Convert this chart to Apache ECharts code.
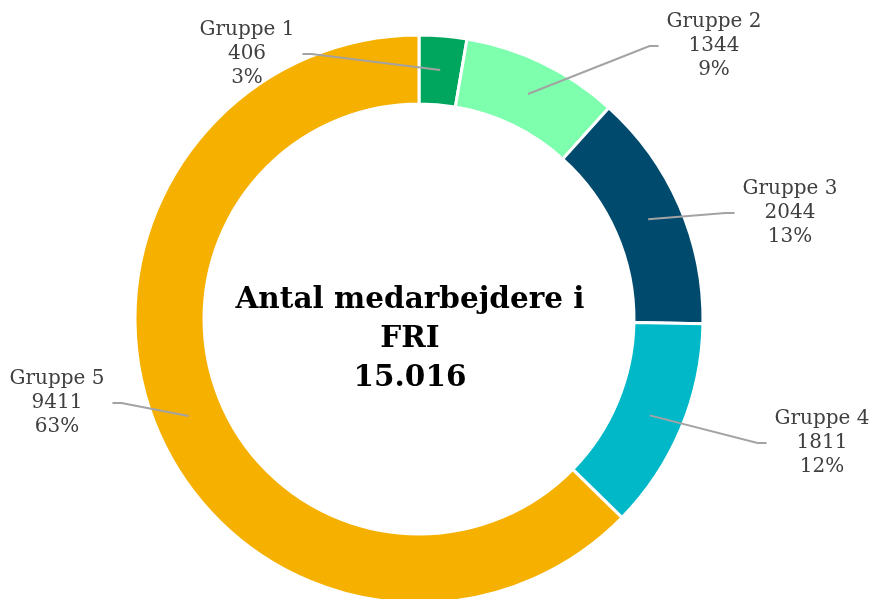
<!DOCTYPE html>
<html>
<head>
<meta charset="utf-8">
<script src="https://cdn.jsdelivr.net/npm/echarts@6/dist/echarts.min.js"></script>
<style>
  html, body { margin: 0; padding: 0; background: #fff; }
  #chart { width: 876px; height: 599px; }
</style>
</head>
<body>
<div id="chart"></div>
<script>
// data
const groups = ['Gruppe 1', 'Gruppe 2', 'Gruppe 3', 'Gruppe 4', 'Gruppe 5'];
const counts = [406, 1344, 2044, 1811, 9411];
const colors = ['#00a65d', '#7dffae', '#004a6e', '#00b8c8', '#f5b000'];
const titleText = 'Antal medarbejdere i\nFRI';

// where each label block sits (centre of the text)
const labelPos = [[247, 54], [714, 46], [790, 213], [822, 443], [57, 403]];

const cx = 419, cy = 319;
const labelFont = '20px "DejaVu Serif"';
const total = counts.reduce((a, b) => a + b, 0);
const totalText = String(total).replace(/\B(?=(\d{3})+(?!\d))/g, '.');

// width of the first label line, used to end the leader lines
const ctx = document.createElement('canvas').getContext('2d');
ctx.font = labelFont;
const nameWidth = groups.map(g => ctx.measureText(g).width);

const chart = echarts.init(document.getElementById('chart'), null, { renderer: 'canvas' });

const option = {
    backgroundColor: '#fff',
    animation: false,
    graphic: [{
        type: 'text',
        z: 10,
        x: 410,
        y: 281,
        style: {
            text: titleText + '\n' + totalText,
            align: 'center',
            font: 'bold 29.5px "DejaVu Serif"',
            lineHeight: 39,
            fill: '#000'
        }
    }],
    series: [
        {
            // the ring itself
            type: 'pie',
            z: 2,
            center: [cx, cy],
            radius: [215, 284],
            startAngle: 90,
            clockwise: true,
            silent: true,
            label: { show: false },
            labelLine: { show: false },
            itemStyle: { borderColor: '#fff', borderWidth: 3 },
            data: groups.map((name, i) => ({
                name: name,
                value: counts[i],
                itemStyle: { color: colors[i] }
            }))
        },
        {
            // invisible copy, only used for the labels and leader lines
            type: 'pie',
            z: 3,
            center: [cx, cy],
            radius: [0, 250],
            startAngle: 90,
            clockwise: true,
            silent: true,
            avoidLabelOverlap: false,
            percentPrecision: 0,
            itemStyle: { color: 'rgba(0,0,0,0)' },
            label: {
                show: true,
                formatter: '{b}\n{c}\n{d}%',
                fontFamily: 'DejaVu Serif',
                fontSize: 20,
                lineHeight: 24,
                color: '#404040',
                align: 'center'
            },
            labelLine: {
                show: true,
                length: 20,
                length2: 10,
                lineStyle: { color: '#a3a3a3', width: 2 }
            },
            labelLayout: function (params) {
                const i = params.dataIndex;
                const x = labelPos[i][0], y = labelPos[i][1];
                const w = nameWidth[i];
                const right = x > cx;
                const end = right ? x - w / 2 - 8 : x + w / 2 + 8;
                const elbow = right ? end - 9 : end + 9;
                const start = params.labelLinePoints[0];
                return {
                    x: x,
                    y: y,
                    align: 'center',
                    verticalAlign: 'middle',
                    labelLinePoints: [start, [elbow, y], [end, y]]
                };
            },
            data: groups.map((name, i) => ({ name: name, value: counts[i] }))
        }
    ]
};

chart.setOption(option);
</script>
</body>
</html>
